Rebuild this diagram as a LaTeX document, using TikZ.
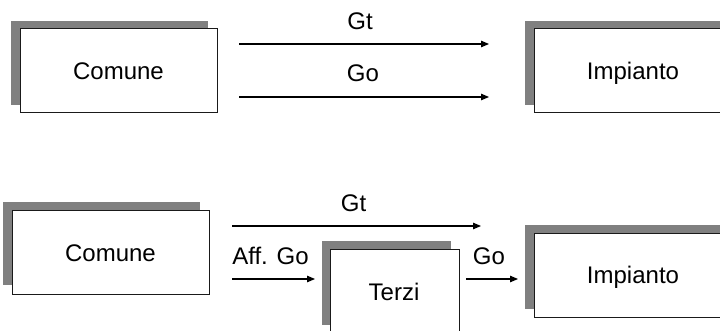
\documentclass[tikz,border=0pt]{standalone}
\usepackage{fontspec}
\setmainfont{Liberation Sans}
\usetikzlibrary{shadows,arrows.meta}
\definecolor{shadowgray}{HTML}{808080}
\definecolor{edgegray}{HTML}{1A1A1A}
\begin{document}
\begin{tikzpicture}[x=1pt,y=-1pt,
  box/.style={draw=edgegray, line width=1pt, fill=white, inner sep=0pt,
    minimum width=197pt, minimum height=84pt,
    font=\fontsize{24}{28}\selectfont, text height=17pt, text depth=0pt},
  shad/.style={general shadow={fill=shadowgray, draw=none, shadow xshift=-9pt, shadow yshift=8pt}},
  lbl/.style={inner sep=0pt, font=\fontsize{24}{28}\selectfont, text height=17pt, text depth=0pt},
  flow/.style={line width=1.1pt, -{Triangle[length=8pt,width=6.5pt]}}]
\useasboundingbox (0,0) rectangle (720,331);
\clip (0,0) rectangle (720,331);
% top row
\node[box, shad] (c1) at (118.5,71) {Comune};
\node[box, shad, minimum width=198pt] (i1) at (633,71) {Impianto};
\coordinate (a1s) at (239,44);
\coordinate (a1e) at (489,44);
\coordinate (a2s) at (239,97);
\coordinate (a2e) at (489,97);
\draw[flow] (a1s) -- (a1e);
\draw[flow] (a2s) -- (a2e);
\node[lbl] (gt1) at (360,21) {Gt};
\node[lbl] (go1) at (363,73.5) {Go};
% bottom row
\node[box, general shadow={fill=shadowgray, draw=none, shadow xshift=-9pt, shadow yshift=9pt}, minimum height=83pt] (c2) at (110.5,252.5) {Comune};
\node[box, minimum width=129pt, general shadow={fill=shadowgray, draw=none, shadow xshift=-8pt, shadow yshift=8.5pt}] (t) at (394.5,291) {};
\node[lbl] (tt) at (394,292) {Terzi};
\node[box, shad, minimum width=198pt] (i2) at (633,275) {Impianto};
\coordinate (b1s) at (232,226);
\coordinate (b1e) at (481,226);
\coordinate (b2s) at (232,279);
\coordinate (b2e) at (315,279);
\coordinate (b3s) at (466,279);
\coordinate (b3e) at (518,279);
\draw[flow] (b1s) -- (b1e);
\draw[flow] (b2s) -- (b2e);
\draw[flow] (b3s) -- (b3e);
\node[lbl] (gt2) at (353.5,203) {Gt};
\node[lbl] (aff) at (270.5,256) {Aff. Go};
\node[lbl] (go2) at (489,256) {Go};
\end{tikzpicture}
\end{document}
